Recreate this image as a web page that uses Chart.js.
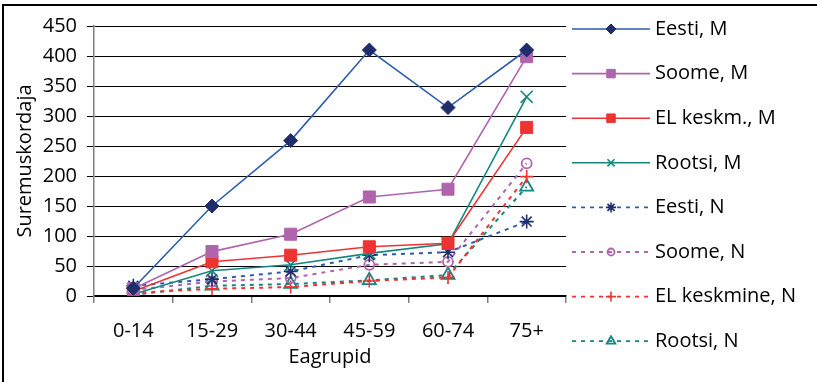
<!DOCTYPE html>
<html>
<head>
<meta charset="utf-8">
<script src="https://cdn.jsdelivr.net/npm/chart.js@4"></script>
<style>
  html, body { margin: 0; padding: 0; background: #fff; }
  #wrap { width: 817px; height: 382px; position: relative; }
</style>
</head>
<body>
<div id="wrap"><canvas id="chart" width="817" height="382"></canvas></div>
<script>
// age groups and values
const ageGroups = ['0-14', '15-29', '30-44', '45-59', '60-74', '75+'];
const yTicks = [0, 50, 100, 150, 200, 250, 300, 350, 400, 450];

const eestiM  = [13, 150, 259, 410, 314, 410];
const soomeM  = [12, 74, 103, 165, 178, 399];
const elM     = [8, 57, 68, 82, 88, 281];
const rootsiM = [3, 42, 52, 71, 87, 332];
const eestiN  = [17, 28, 41, 68, 73, 124];
const soomeN  = [10, 24, 30, 52, 57, 221];
const elN     = [5, 12, 15, 25, 31, 199];
const rootsiN = [2, 17, 20, 26, 35, 182];

const FONT = '"Open Sans", "Noto Sans", sans-serif';
const blue = '#2b5cb0', navy = '#1f2d6b', purple = '#b064ac', red = '#ee3333', teal = '#13877d';

function series(label, data, line, point, style, opts) {
  return Object.assign({
    label: label,
    data: data,
    borderColor: line,
    borderWidth: 1.6,
    pointStyle: style,
    pointRadius: 6,
    pointBackgroundColor: point,
    pointBorderColor: point,
    pointBorderWidth: 1,
    tension: 0,
    fill: false
  }, opts || {});
}

const dash = [4, 5];
const datasets = [
  series('Eesti, M', eestiM, blue, navy, 'rectRot', { pointRadius: 7 }),
  series('Soome, M', soomeM, purple, purple, 'rect', { pointRadius: 8.5 }),
  series('EL keskm., M', elM, red, red, 'rect', { pointRadius: 8.5 }),
  series('Rootsi, M', rootsiM, teal, teal, 'crossRot', { pointRadius: 8.5, pointBorderWidth: 1.6 }),
  series('Eesti, N', eestiN, blue, navy, 'star', { borderDash: dash, borderWidth: 2, pointRadius: 7, pointBorderWidth: 1.6 }),
  series('Soome, N', soomeN, purple, purple, 'circle', { borderDash: dash, borderWidth: 2, pointBackgroundColor: 'rgba(0,0,0,0)', pointRadius: 5, pointBorderWidth: 1.8 }),
  series('EL keskmine, N', elN, red, red, 'cross', { borderDash: dash, borderWidth: 2, pointRadius: 6.5, pointBorderWidth: 1.6 }),
  series('Rootsi, N', rootsiN, teal, teal, 'triangle', { borderDash: dash, borderWidth: 2, pointBackgroundColor: 'rgba(0,0,0,0)', pointRadius: 7.5, pointBorderWidth: 1.8 })
];

// legend on the right, line sample with marker in the middle
const sideLegend = {
  id: 'sideLegend',
  afterDraw(chart) {
    const ctx = chart.ctx;
    ctx.save();
    chart.data.datasets.forEach((ds, i) => {
      const y = 29 + i * 44.6;
      ctx.strokeStyle = ds.borderColor;
      ctx.lineWidth = ds.borderDash ? 1.8 : 1.6;
      ctx.setLineDash(ds.borderDash || []);
      ctx.beginPath();
      ctx.moveTo(572, y);
      ctx.lineTo(650, y);
      ctx.stroke();
      ctx.setLineDash([]);
      ctx.fillStyle = ds.pointBackgroundColor;
      ctx.strokeStyle = ds.pointBorderColor;
      ctx.lineWidth = ds.pointBorderWidth;
      Chart.helpers.drawPoint(ctx, {
        pointStyle: ds.pointStyle,
        radius: ds.pointStyle === 'circle' ? 3.5 : (ds.pointStyle === 'rect' ? 6 : 5),
        rotation: 0,
        borderWidth: ds.pointBorderWidth
      }, 611, y);
      ctx.fillStyle = '#000';
      ctx.font = '20px ' + FONT;
      ctx.textBaseline = 'middle';
      ctx.textAlign = 'left';
      ctx.fillText(ds.label, 655, y);
    });
    // outer frame (top and left edges show in the picture)
    ctx.strokeStyle = '#000';
    ctx.lineWidth = 2;
    ctx.beginPath();
    ctx.moveTo(817, 5);
    ctx.lineTo(3, 5);
    ctx.lineTo(3, 382);
    ctx.stroke();
    ctx.restore();
  }
};

const ctx = document.getElementById('chart').getContext('2d');
new Chart(ctx, {
  type: 'line',
  data: { labels: ageGroups, datasets: datasets },
  options: {
    responsive: false,
    animation: false,
    layout: { padding: { top: 26, right: 251, bottom: 0, left: 0 } },
    plugins: { legend: { display: false }, tooltip: { enabled: false } },
    scales: {
      x: {
        offset: true,
        afterFit(scale) { scale.height = 86; },
        grid: { offset: true, drawOnChartArea: false, color: '#808080', tickLength: 7, lineWidth: 1.5 },
        border: { color: '#000', width: 1.2 },
        ticks: { color: '#000', font: { family: FONT, size: 20 }, padding: 16, maxRotation: 0 },
        title: { display: true, text: 'Eagrupid', color: '#000', font: { family: FONT, size: 20 }, padding: { top: 0, bottom: 13 } }
      },
      y: {
        min: 0,
        max: 450,
        afterFit(scale) { scale.width = 94; },
        afterBuildTicks(scale) { scale.ticks = yTicks.map(v => ({ value: v })); },
        grid: { color: '#000', lineWidth: 1, tickLength: 7 },
        border: { color: '#808080', width: 1.5 },
        ticks: { color: '#000', font: { family: FONT, size: 20 }, padding: 10 },
        title: { display: true, text: 'Suremuskordaja', color: '#000', font: { family: FONT, size: 20 }, padding: { top: 13, bottom: 0 } }
      }
    }
  },
  plugins: [sideLegend]
});
</script>
</body>
</html>
